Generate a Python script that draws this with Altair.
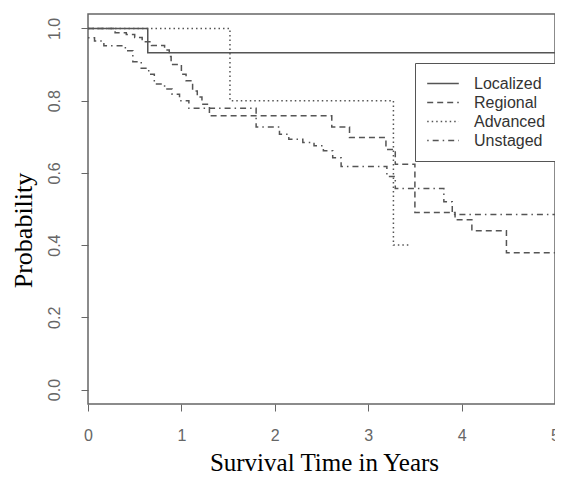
import altair as alt
import pandas as pd

groups = ["Localized", "Regional", "Advanced", "Unstaged"]

localized_t = [0.0, 0.64, 5.0]
localized_s = [1.0, 0.933, 0.933]

regional_t = [0.0, 0.29, 0.41, 0.50, 0.58, 0.68, 0.82, 0.87, 0.89, 1.00, 1.05, 1.12,
              1.17, 1.22, 1.30, 2.61, 2.80, 3.19, 3.29, 3.50, 3.93, 4.11, 4.48, 5.0]
regional_s = [1.0, 0.988, 0.983, 0.975, 0.963, 0.953, 0.94, 0.922, 0.90, 0.873, 0.855, 0.827,
              0.81, 0.79, 0.758, 0.727, 0.698, 0.665, 0.624, 0.49, 0.47, 0.44, 0.379, 0.379]

advanced_t = [0.0, 1.52, 3.27, 3.44]
advanced_s = [1.0, 0.8, 0.4, 0.4]

unstaged_t = [0.0, 0.07, 0.17, 0.40, 0.48, 0.57, 0.65, 0.71, 0.82, 0.90, 0.98, 1.08,
              1.80, 2.05, 2.15, 2.30, 2.42, 2.52, 2.62, 2.71, 3.20, 3.29, 3.81, 3.90, 5.0]
unstaged_s = [0.974, 0.965, 0.952, 0.938, 0.908, 0.89, 0.873, 0.846, 0.832, 0.818, 0.80, 0.779,
              0.727, 0.707, 0.693, 0.684, 0.675, 0.661, 0.642, 0.618, 0.59, 0.557, 0.52, 0.485, 0.485]

x_ticks = [0, 1, 2, 3, 4, 5]
y_ticks = [0.0, 0.2, 0.4, 0.6, 0.8, 1.0]

rows = []
for name, ts, ss in zip(groups,
                        [localized_t, regional_t, advanced_t, unstaged_t],
                        [localized_s, regional_s, advanced_s, unstaged_s]):
    for t, s in zip(ts, ss):
        rows.append({"group": name, "time": t, "surv": s})
df = pd.DataFrame(rows)

dash_range = [[1, 0], [6, 4], [1.5, 3], [1.5, 4, 6, 4]]

chart = alt.Chart(df).mark_line(
    interpolate="step-after", strokeWidth=1.5, color="#555", clip=True
).encode(
    x=alt.X("time:Q",
            scale=alt.Scale(domain=[0, 5], nice=False, zero=False),
            axis=alt.Axis(title="Survival Time in Years", values=x_ticks, format="d",
                          grid=False, domain=False, tickSize=7, tickColor="#666",
                          labelFont="Liberation Sans", labelFontSize=16, labelColor="#666",
                          labelPadding=16, labelFlush=False, labelOverlap=False, labelBound=False,
                          titleFont="Liberation Serif", titleFontSize=25, titleFontWeight="normal",
                          titleColor="black", titleX=236, titleY=66, titleAlign="center",
                          titleBaseline="alphabetic")),
    y=alt.Y("surv:Q",
            scale=alt.Scale(domain=[-0.04, 1.04], nice=False, zero=False),
            axis=alt.Axis(title="Probability", values=y_ticks, format=".1f",
                          grid=False, domain=False, tickSize=7, tickColor="#666",
                          labelFont="Liberation Sans", labelFontSize=16, labelColor="#666",
                          labelAngle=270, labelAlign="center", labelBaseline="alphabetic",
                          labelPadding=22, labelFlush=False, labelOverlap=False, labelBound=False,
                          titleFont="Liberation Serif", titleFontSize=26, titleFontWeight="normal",
                          titleColor="black", titleAngle=270, titleX=-57, titleY=216,
                          titleAlign="center", titleBaseline="alphabetic")),
    strokeDash=alt.StrokeDash(
        "group:N",
        scale=alt.Scale(domain=groups, range=dash_range),
        legend=alt.Legend(title=None, orient="none", legendX=327, legendY=49,
                          symbolType="stroke", symbolSize=1000, symbolStrokeWidth=1.5,
                          symbolStrokeColor="#555", labelFont="Liberation Sans",
                          labelFontSize=16, labelColor="#333", labelOffset=14,
                          padding=11, strokeColor="#555", fillColor="white",
                          clipHeight=19, rowPadding=0, cornerRadius=0, labelLimit=200)),
).properties(
    width=467, height=390,
    autosize=alt.AutoSizeParams(type="none"),
    padding={"left": 80, "top": 6, "right": 0, "bottom": 73},
).configure_view(stroke="#666", strokeWidth=1.5)

chart.save("out.html", embed_options={"renderer": "svg", "actions": False})
